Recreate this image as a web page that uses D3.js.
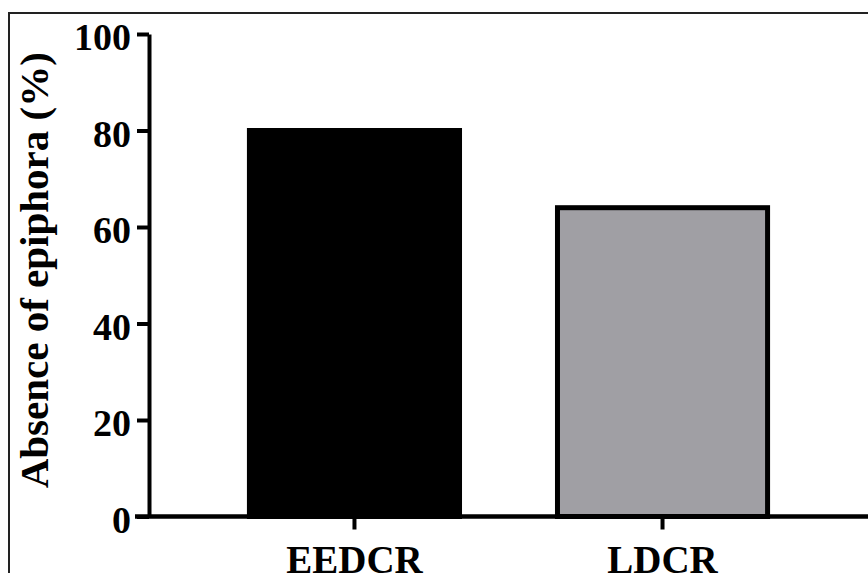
<!DOCTYPE html>
<html>
<head>
<meta charset="utf-8">
<script src="https://cdn.jsdelivr.net/npm/d3@7"></script>
<style>
  html, body { margin: 0; padding: 0; background: #fff; }
  svg { display: block; }
</style>
</head>
<body>
<div id="chart"></div>
<script>
// Data
const categories = ["EEDCR", "LDCR"];
const values = [80, 64];
const barColors = ["#000000", "#a09fa4"];
const yTicks = [0, 20, 40, 60, 80, 100];
const yTitle = "Absence of epiphora (%)";

(function () {
const W = 868, H = 573;
const svg = d3.select("#chart").append("svg").attr("width", W).attr("height", H);

// outer frame (extends beyond the canvas on right and bottom)
svg.append("rect")
  .attr("x", 9).attr("y", 13)
  .attr("width", 1000).attr("height", 1000)
  .attr("fill", "none").attr("stroke", "#222").attr("stroke-width", 2);

const mLeft = 149, mRight = 868, mTop = 34, mBottom = 516.5;

const x = d3.scaleBand().domain(categories).range([mLeft, mRight])
  .paddingInner(0.318).paddingOuter(0.326);
const y = d3.scaleLinear().domain([0, 100]).range([mBottom, mTop]);

const font = "'Liberation Serif', 'Times New Roman', serif";

// bars
svg.append("g").selectAll("rect").data(categories).join("rect")
  .attr("x", d => x(d))
  .attr("y", (d, i) => y(values[i]))
  .attr("width", x.bandwidth())
  .attr("height", (d, i) => y(0) - y(values[i]))
  .attr("fill", (d, i) => barColors[i])
  .attr("stroke", "#000").attr("stroke-width", 5);

// y axis
const yAxis = svg.append("g").attr("transform", `translate(${mLeft},0)`)
  .call(d3.axisLeft(y).tickValues(yTicks).tickSize(12).tickSizeOuter(0).tickPadding(6));
yAxis.select(".domain").attr("stroke", "#000").attr("stroke-width", 4);
yAxis.selectAll(".tick line").attr("stroke", "#000").attr("stroke-width", 4);
yAxis.selectAll(".tick text")
  .attr("font-family", font).attr("font-weight", "bold").attr("font-size", 38)
  .attr("fill", "#000").attr("dy", "0.42em");

// x axis
const xAxis = svg.append("g").attr("transform", `translate(0,${mBottom})`)
  .call(d3.axisBottom(x).tickSize(13).tickSizeOuter(0).tickPadding(16));
xAxis.select(".domain").attr("stroke", "#000").attr("stroke-width", 4.5)
  .attr("d", `M${mLeft - 14},0H${W + 10}`);
xAxis.selectAll(".tick line").attr("stroke", "#000").attr("stroke-width", 4);
xAxis.selectAll(".tick text")
  .attr("font-family", font).attr("font-weight", "bold").attr("font-size", 39)
  .attr("fill", "#000").attr("dy", "0.71em");

// y title
svg.append("text")
  .attr("transform", `translate(48,${(mTop + mBottom) / 2 - 5}) rotate(-90)`)
  .attr("text-anchor", "middle")
  .attr("font-family", font).attr("font-weight", "bold").attr("font-size", 41)
  .attr("fill", "#000")
  .text(yTitle);
})();
</script>
</body>
</html>
